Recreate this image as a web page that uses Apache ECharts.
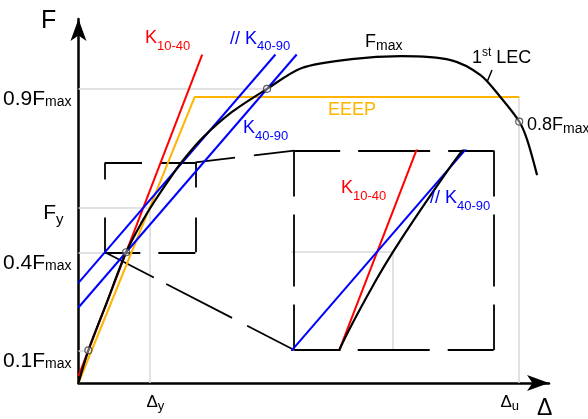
<!DOCTYPE html>
<html>
<head>
<meta charset="utf-8">
<script src="https://cdn.jsdelivr.net/npm/echarts@6/dist/echarts.min.js"></script>
<style>
  html, body { margin: 0; padding: 0; background: #fff; }
  #chart { width: 588px; height: 419px; }
</style>
</head>
<body>
<div id="chart"></div>
<script>
// ---- Data: displacement in arbitrary units, force as a fraction of Fmax ----
// First load envelope curve (1st LEC)
const LEC_X = [0, 1.0, 2.9, 4.8, 6.4, 7.6, 9.6, 10.5, 12.5, 15.5, 19.0, 22.5, 27.5, 32.5, 37.5, 40.5, 42.5, 44.4, 45.2, 46.2];
const LEC_F = [0, 0.10, 0.25, 0.40, 0.493, 0.553, 0.643, 0.68, 0.75, 0.83, 0.90, 0.964, 0.991, 1.0, 0.988, 0.942, 0.875, 0.80, 0.744, 0.636];

// Marked points on the envelope: 0.1Fmax, 0.4Fmax, 0.9Fmax (pre-peak), 0.8Fmax (post-peak)
const P10 = [1.0, 0.10];
const P40 = [4.8, 0.40];
const P90 = [19.0, 0.90];
const P80 = [44.4, 0.80];

// Yield and ultimate values
const F_Y = 0.536;
const DELTA_Y = 7.2;
const DELTA_U = 44.4;

// Equivalent energy elastic-plastic (EEEP) curve
const EEEP_X = [0, 11.7, 44.4];
const EEEP_F = [0, 0.875, 0.875];

// Stiffness lines are drawn up to this force level
const K_LINE_TOP = 1.005;

// Magnified window and where its enlarged view sits (both in data units)
const ZOOM_X = [2.67, 11.77];
const ZOOM_F = [0.40, 0.675];
const INSET_X = [21.73, 41.83];
const INSET_F = [0.101, 0.711];

// Axis tick labels
const Y_TICKS = [0.1, 0.4, F_Y, 0.9];
const Y_TICK_MAIN = ['0.1F', '0.4F', 'F', '0.9F'];
const Y_TICK_SUB = ['max', 'max', 'y', 'max'];
const X_TICKS = [DELTA_Y, DELTA_U];
const X_TICK_SUB = ['y', 'u'];

// ---- Styling ----
const RED = '#ff0000', BLUE = '#0000ff', ORANGE = '#ffb400', GRAY = '#d9d9d9', INK = '#000000';
const FONT = '"Liberation Sans", Arial, sans-serif';
const NARROW = '"Liberation Sans Narrow", "Liberation Sans", Arial, sans-serif';

// Main plotting area geometry (axis arrows sit at the far ends)
const G = { left: 75, top: 19, width: 474, height: 364 };
const X_MAX = 47.4, F_AXIS_MAX = 1.1137;
const pxX = x => G.left + x / X_MAX * G.width;
const pxY = f => G.top + (1 - f / F_AXIS_MAX) * G.height;

// ---- Derived lines ----
function lineThrough(p, q) {
  const slope = (q[1] - p[1]) / (q[0] - p[0]);
  return { slope, icpt: p[1] - slope * p[0] };
}
const k1040 = lineThrough(P10, P40);
const k4090 = lineThrough(P40, P90);
const yieldX = (F_Y - k1040.icpt) / k1040.slope;
const kPar = { slope: k4090.slope, icpt: F_Y - k4090.slope * yieldX };
const segment = l => [[0, l.icpt], [(K_LINE_TOP - l.icpt) / l.slope, K_LINE_TOP]];

const lec = LEC_X.map((x, i) => [x, LEC_F[i]]);
const eeep = EEEP_X.map((x, i) => [x, EEEP_F[i]]);

const guideMain = [
  [[0, P90[1]], P90],
  [[0, P40[1]], P40],
  [[0, P10[1]], P10],
  [[0, F_Y], [DELTA_Y, F_Y]],
  [[DELTA_Y, 0], [DELTA_Y, F_Y]],
  [[DELTA_U, 0], [DELTA_U, EEEP_F[2]]]
];
const guideInset = [
  [[0, F_Y], [DELTA_Y, F_Y]],
  [[DELTA_Y, 0], [DELTA_Y, F_Y]]
];

// Dashed frames: small window, enlarged view, and the two connectors
const zx0 = ZOOM_X[0], zx1 = ZOOM_X[1], zf0 = ZOOM_F[0], zf1 = ZOOM_F[1];
const ix0 = INSET_X[0], ix1 = INSET_X[1], if0 = INSET_F[0], if1 = INSET_F[1];
const BIG_DASH = [46, 18, 72, 18, 60];
const frames = [
  { coords: [[zx0, zf1], [zx1, zf1]], dash: [37, 18, 60] },
  { coords: [[zx1, zf1], [zx1, zf0]], dash: [25, 30, 60] },
  { coords: [[zx1, zf0], [zx0, zf0]], dash: [37, 18, 60] },
  { coords: [[zx0, zf1], [zx0, zf0]], dash: [17, 38, 60] },
  { coords: [[ix0, if1], [ix1, if1]], dash: BIG_DASH },
  { coords: [[ix1, if1], [ix1, if0]], dash: BIG_DASH },
  { coords: [[ix1, if0], [ix0, if0]], dash: BIG_DASH },
  { coords: [[ix0, if1], [ix0, if0]], dash: BIG_DASH },
  { coords: [[zx1, zf1], [ix0, if1]], dash: [40, 19, 120] },
  { coords: [[zx0, zf0], [ix0, if0]], dash: [55, 14, 74, 17, 80] }
].map(d => ({ coords: d.coords, lineStyle: { type: d.dash } }));

// Pixel rectangle of the enlarged view
const inset = {
  left: pxX(ix0), top: pxY(if1),
  width: pxX(ix1) - pxX(ix0), height: pxY(if0) - pxY(if1)
};

// ---- Text helpers ----
const RICH = {
  m: { fontSize: 18, lineHeight: 22, verticalAlign: 'top', fontFamily: FONT },
  mp: { fontSize: 18, lineHeight: 22, verticalAlign: 'top', fontFamily: FONT, padding: [3, 0, 0, 0] },
  sub: { fontSize: 13, lineHeight: 15, verticalAlign: 'top', fontFamily: FONT, padding: [10.5, 0, 0, 0] },
  subN: { fontSize: 14, lineHeight: 16, verticalAlign: 'top', fontFamily: NARROW, padding: [6.4, 0, 0, 0] },
  sup: { fontSize: 12, lineHeight: 14, verticalAlign: 'top', fontFamily: FONT }
};
function note(left, baseline, text, color, shift) {
  return {
    type: 'text', x: left, y: baseline - (shift || 17.3), z: 50,
    style: { text, fill: color, rich: RICH, verticalAlign: 'top', align: 'left', fontFamily: FONT }
  };
}

const chart = echarts.init(document.getElementById('chart'), null, { renderer: 'canvas' });

const hidden = { show: false };
const curveStyle = { color: INK, width: 2.2 };
const option = {
  animation: false,
  backgroundColor: '#ffffff',
  grid: [
    { left: G.left, top: G.top, width: G.width, height: G.height },
    { left: inset.left, top: inset.top, width: inset.width, height: inset.height }
  ],
  xAxis: [
    {
      type: 'value', gridIndex: 0, min: 0, max: X_MAX,
      splitLine: hidden, axisTick: hidden,
      axisLine: { show: true, lineStyle: { color: INK, width: 2.5 }, symbol: ['none', 'arrow'], symbolSize: [12, 22] },
      axisLabel: {
        customValues: X_TICKS, margin: 11, color: INK,
        formatter: v => {
          const i = X_TICKS.findIndex(t => Math.abs(t - v) < 1e-6);
          return i === 0 ? '{dl|Δ}{s|' + X_TICK_SUB[i] + '}' : '{d|Δ}{sr|' + X_TICK_SUB[i] + '}';
        },
        rich: {
          d: { fontSize: 17, lineHeight: 20, verticalAlign: 'top', fontFamily: FONT },
          dl: { fontSize: 17, lineHeight: 20, verticalAlign: 'top', fontFamily: FONT, padding: [0, 0, 0, 11] },
          s: { fontSize: 13, lineHeight: 15, verticalAlign: 'top', fontFamily: FONT, padding: [6, 0, 0, 0] },
          sr: { fontSize: 13, lineHeight: 15, verticalAlign: 'top', fontFamily: FONT, padding: [6, 19, 0, 0] }
        }
      }
    },
    { type: 'value', gridIndex: 1, min: ZOOM_X[0], max: ZOOM_X[1], show: false }
  ],
  yAxis: [
    {
      type: 'value', gridIndex: 0, min: 0, max: F_AXIS_MAX,
      splitLine: hidden, axisTick: hidden,
      axisLine: { show: true, lineStyle: { color: INK, width: 2.5 }, symbol: ['none', 'arrow'], symbolSize: [12, 22] },
      axisLabel: {
        customValues: Y_TICKS, margin: 7, color: INK,
        formatter: v => {
          const i = Y_TICKS.findIndex(t => Math.abs(t - v) < 1e-6);
          return Y_TICK_SUB[i] === 'max'
            ? '{n|' + Y_TICK_MAIN[i] + '}{s|' + Y_TICK_SUB[i] + '}'
            : '{nf|' + Y_TICK_MAIN[i] + '}{sy|' + Y_TICK_SUB[i] + '}';
        },
        rich: {
          n: { fontSize: 21, lineHeight: 24, verticalAlign: 'top', fontFamily: FONT, padding: [12, 0, 0, 0] },
          s: { fontSize: 14, lineHeight: 16, verticalAlign: 'top', fontFamily: NARROW, padding: [18.5, 0, 0, 0] },
          nf: { fontSize: 21, lineHeight: 24, verticalAlign: 'top', fontFamily: FONT, padding: [7, 0, 0, 0] },
          sy: { fontSize: 15, lineHeight: 17, verticalAlign: 'top', fontFamily: FONT, padding: [17, 8, 0, 0] }
        }
      }
    },
    { type: 'value', gridIndex: 1, min: ZOOM_F[0], max: ZOOM_F[1], show: false }
  ],
  series: [
    // guide lines
    { type: 'lines', coordinateSystem: 'cartesian2d', xAxisIndex: 0, yAxisIndex: 0, z: 1,
      lineStyle: { color: GRAY, width: 1.5, opacity: 1 }, data: guideMain.map(c => ({ coords: c })) },
    // dashed frames and connectors
    { type: 'lines', coordinateSystem: 'cartesian2d', xAxisIndex: 0, yAxisIndex: 0, z: 2, clip: false,
      lineStyle: { color: INK, width: 1.8, opacity: 1 }, data: frames },
    // EEEP
    { type: 'line', xAxisIndex: 0, yAxisIndex: 0, z: 3, data: eeep, showSymbol: false,
      lineStyle: { color: ORANGE, width: 2 } },
    // K10-40
    { type: 'line', xAxisIndex: 0, yAxisIndex: 0, z: 4, data: segment(k1040), showSymbol: false,
      lineStyle: { color: RED, width: 2 } },
    // K40-90 and its parallel through the yield point
    { type: 'line', xAxisIndex: 0, yAxisIndex: 0, z: 4, data: segment(k4090), showSymbol: false,
      lineStyle: { color: BLUE, width: 2 } },
    { type: 'line', xAxisIndex: 0, yAxisIndex: 0, z: 4, data: segment(kPar), showSymbol: false,
      lineStyle: { color: BLUE, width: 2 } },
    // 1st LEC
    { type: 'line', xAxisIndex: 0, yAxisIndex: 0, z: 5, data: lec, showSymbol: false,
      smooth: 0.3, lineStyle: curveStyle },
    // marked points
    { type: 'scatter', xAxisIndex: 0, yAxisIndex: 0, z: 6, data: [P10, P40, P90, P80], symbolSize: 7,
      itemStyle: { color: 'rgba(255,255,255,0.5)', borderColor: '#333', borderWidth: 1.2 } },

    // ---- enlarged view ----
    { type: 'lines', coordinateSystem: 'cartesian2d', xAxisIndex: 1, yAxisIndex: 1, z: 1, clip: true,
      lineStyle: { color: GRAY, width: 1.5, opacity: 1 }, data: guideInset.map(c => ({ coords: c })) },
    { type: 'line', xAxisIndex: 1, yAxisIndex: 1, z: 4, data: segment(k1040), showSymbol: false, clip: true,
      lineStyle: { color: RED, width: 2 } },
    { type: 'line', xAxisIndex: 1, yAxisIndex: 1, z: 4, data: segment(kPar), showSymbol: false, clip: true,
      lineStyle: { color: BLUE, width: 2 } },
    { type: 'line', xAxisIndex: 1, yAxisIndex: 1, z: 5, data: lec, showSymbol: false, clip: true,
      smooth: 0.3, lineStyle: curveStyle }
  ],
  graphic: [
    { type: 'text', x: 41, y: 21.3, z: 50, style: { text: 'F', fontSize: 25, fontFamily: FONT, fill: INK, verticalAlign: 'middle' } },
    { type: 'text', x: 537, y: 408.6, z: 50, style: { text: 'Δ', fontSize: 23, fontFamily: FONT, fill: INK, verticalAlign: 'middle' } },
    note(145, 46.7, '{m|K}{sub|10-40}', RED),
    note(230, 47, '{m|// K}{sub|40-90}', BLUE),
    note(365, 50, '{m|F}{subN|max}', INK),
    note(472, 66.7, '{mp|1}{sup|st}{mp| LEC}', INK, 20.3),
    note(328, 118.3, '{m|EEEP}', ORANGE),
    note(243, 136.7, '{m|K}{sub|40-90}', BLUE),
    note(527, 133.3, '{m|0.8F}{subN|max}', INK),
    note(341, 196.7, '{m|K}{sub|10-40}', RED),
    note(430, 206.7, '{m|// K}{sub|40-90}', BLUE),
    { type: 'line', z: 50, shape: { x1: 487, y1: 82, x2: 492, y2: 70 }, style: { stroke: INK, lineWidth: 1.5 } }
  ]
};
chart.setOption(option);
</script>
</body>
</html>
